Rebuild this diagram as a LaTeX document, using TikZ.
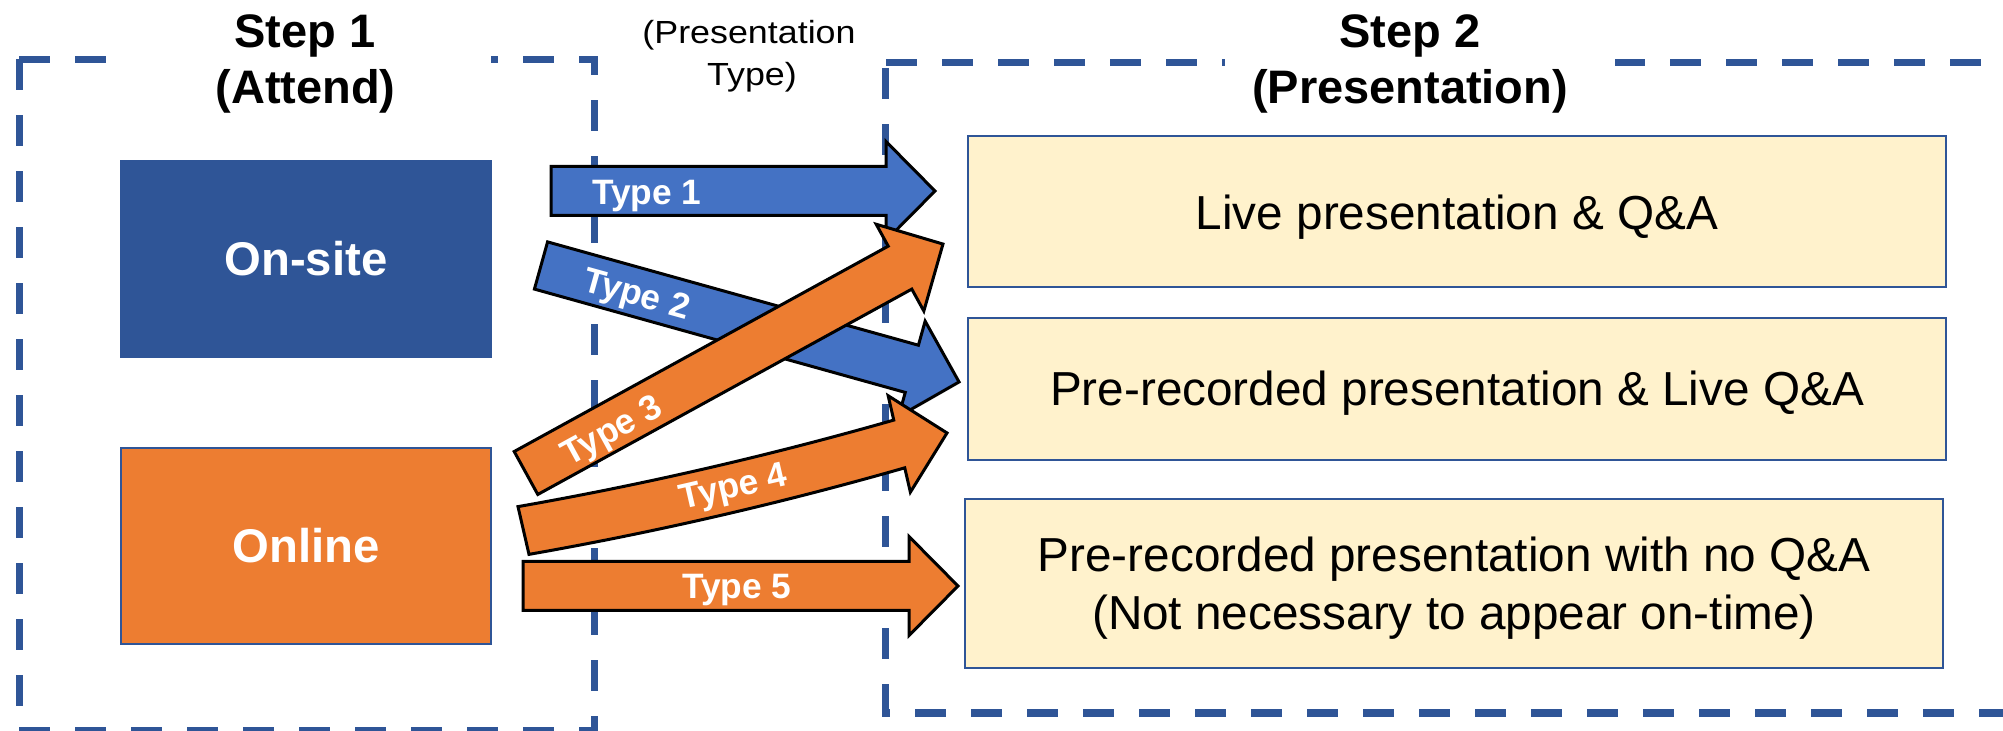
\documentclass[tikz,border=0pt]{standalone}
\usepackage{fontspec}
\setmainfont{Liberation Sans}
\newfontfamily\ptfont[FakeStretch=1.12]{Liberation Sans}
\definecolor{dkblue}{HTML}{2F5597}
\definecolor{arblue}{HTML}{4472C4}
\definecolor{orng}{HTML}{ED7D31}
\definecolor{ylw}{HTML}{FFF2CC}
\tikzset{
  dashline/.style={draw=dkblue, line width=3.5pt, line cap=rect, dash pattern=on 12pt off 16pt},
  arrowline/.style={draw=black, line width=1.5pt, line join=miter},
  titletxt/.style={font=\bfseries\fontsize{23.5pt}{28pt}\selectfont, inner sep=0pt, anchor=base},
  boxtxt/.style={font=\fontsize{23.85pt}{29pt}\selectfont, inner sep=0pt, anchor=base},
  pttxt/.style={font=\ptfont\fontsize{16pt}{21pt}\selectfont, inner sep=0pt, anchor=base},
  attendbox/.style={draw=dkblue, line width=0.75pt, minimum width=185pt, minimum height=98pt, inner sep=0pt,
    text=white, font=\bfseries\fontsize{23.65pt}{28pt}\selectfont},
  ybox/.style={draw=dkblue, fill=ylw, line width=1.2pt, minimum width=489pt, inner sep=0pt},
  typelbl/.style={text=white, font=\bfseries\fontsize{17.65pt}{20pt}\selectfont, inner sep=0pt,
    text height=12.64pt, text depth=0pt, anchor=center}
}
\newcommand\fatarrow[5]{%
  \begin{scope}[shift={(#1,#2)}, rotate=#3]
    \draw[arrowline, fill=#5] (0,-24.5) -- ({#4-49},-24.5) -- ({#4-49},-49.5) -- (#4,0)
      -- ({#4-49},49.5) -- ({#4-49},24.5) -- (0,24.5) -- cycle;
  \end{scope}}
\begin{document}
\begin{tikzpicture}[x=0.5pt,y=-0.5pt]
\useasboundingbox (0,0) rectangle (2003,731);
\fill[white] (0,0) rectangle (2003,731);
% dashed frames
\draw[dashline, dash phase=26.5pt] (19,60) -- (594,60);
\draw[dashline, dash phase=26.5pt] (19,60) -- (19,730);
\draw[dashline, dash phase=6.25pt] (594,60) -- (594,730);
\draw[dashline, dash phase=26.5pt] (19,730) -- (594,730);
\draw[dashline, dash phase=25.75pt] (885,63) -- (2010,63);
\draw[dashline, dash phase=23.75pt] (885,63) -- (885,713);
\draw[dashline, dash phase=11.25pt] (885,713) -- (2010,713);
% title masks
\fill[white] (107,45) rectangle (491,75);
\fill[white] (1225,48) rectangle (1615,78);
% titles
\node[titletxt] (s1a) at (305,48) {Step 1};
\node[titletxt] (s1b) at (305.5,104) {(Attend)};
\node[titletxt] (s2a) at (1410,48) {Step 2};
\node[titletxt] (s2b) at (1410,104) {(Presentation)};
\node[pttxt] (pta) at (749,44) {(Presentation};
\node[pttxt] (ptb) at (752,86) {Type)};
% attend boxes
\node[attendbox, fill=dkblue] (onsite) at (306,259) {On-site};
\node[attendbox, fill=orng] (online) at (306,546) {Online};
% presentation boxes
\node[ybox, minimum height=75.5pt] (live) at (1457,211.5) {};
\node[boxtxt] (livet) at (1457,230) {Live presentation \& Q\&A};
\node[ybox, minimum height=71pt] (prel) at (1457,389) {};
\node[boxtxt] (prelt) at (1457,406) {Pre-recorded presentation \& Live Q\&A};
\node[ybox, minimum height=84.5pt] (pren) at (1454,583.5) {};
\node[boxtxt] (prena) at (1454,572) {Pre-recorded presentation with no Q\&A};
\node[boxtxt] (prenb) at (1454,630) {(Not necessary to appear on-time)};
% arrows
\fatarrow{551}{191}{0}{384}{arblue}
\node[typelbl] (t1) at (647,191.5) {Type 1};
\fatarrow{541}{265.5}{-15.57}{434}{arblue}
\node[typelbl, rotate=-15.57] (t2) at (637,292.5) {Type 2};
\fatarrow{526}{473}{28.77}{475.7}{orng}
\node[typelbl, rotate=28.77] (t3) at (611,429) {Type 3};
\begin{scope}[shift={(523.5,530.5)}, rotate=12.97]
  \draw[arrowline, fill=orng] (0,-24.5) .. controls (128,-17.8) and (257,-17.8) .. (385.6,-24.5)
    -- (385.6,-49.5) -- (434.6,0) -- (385.6,49.5) -- (385.6,24.5)
    .. controls (257,31.2) and (128,31.2) .. (0,24.5) -- cycle;
\end{scope}
\node[typelbl, rotate=12.97] (t4) at (733,485) {Type 4};
\fatarrow{523}{586}{0}{435}{orng}
\node[typelbl] (t5) at (737,586) {Type 5};
\end{tikzpicture}
\end{document}
